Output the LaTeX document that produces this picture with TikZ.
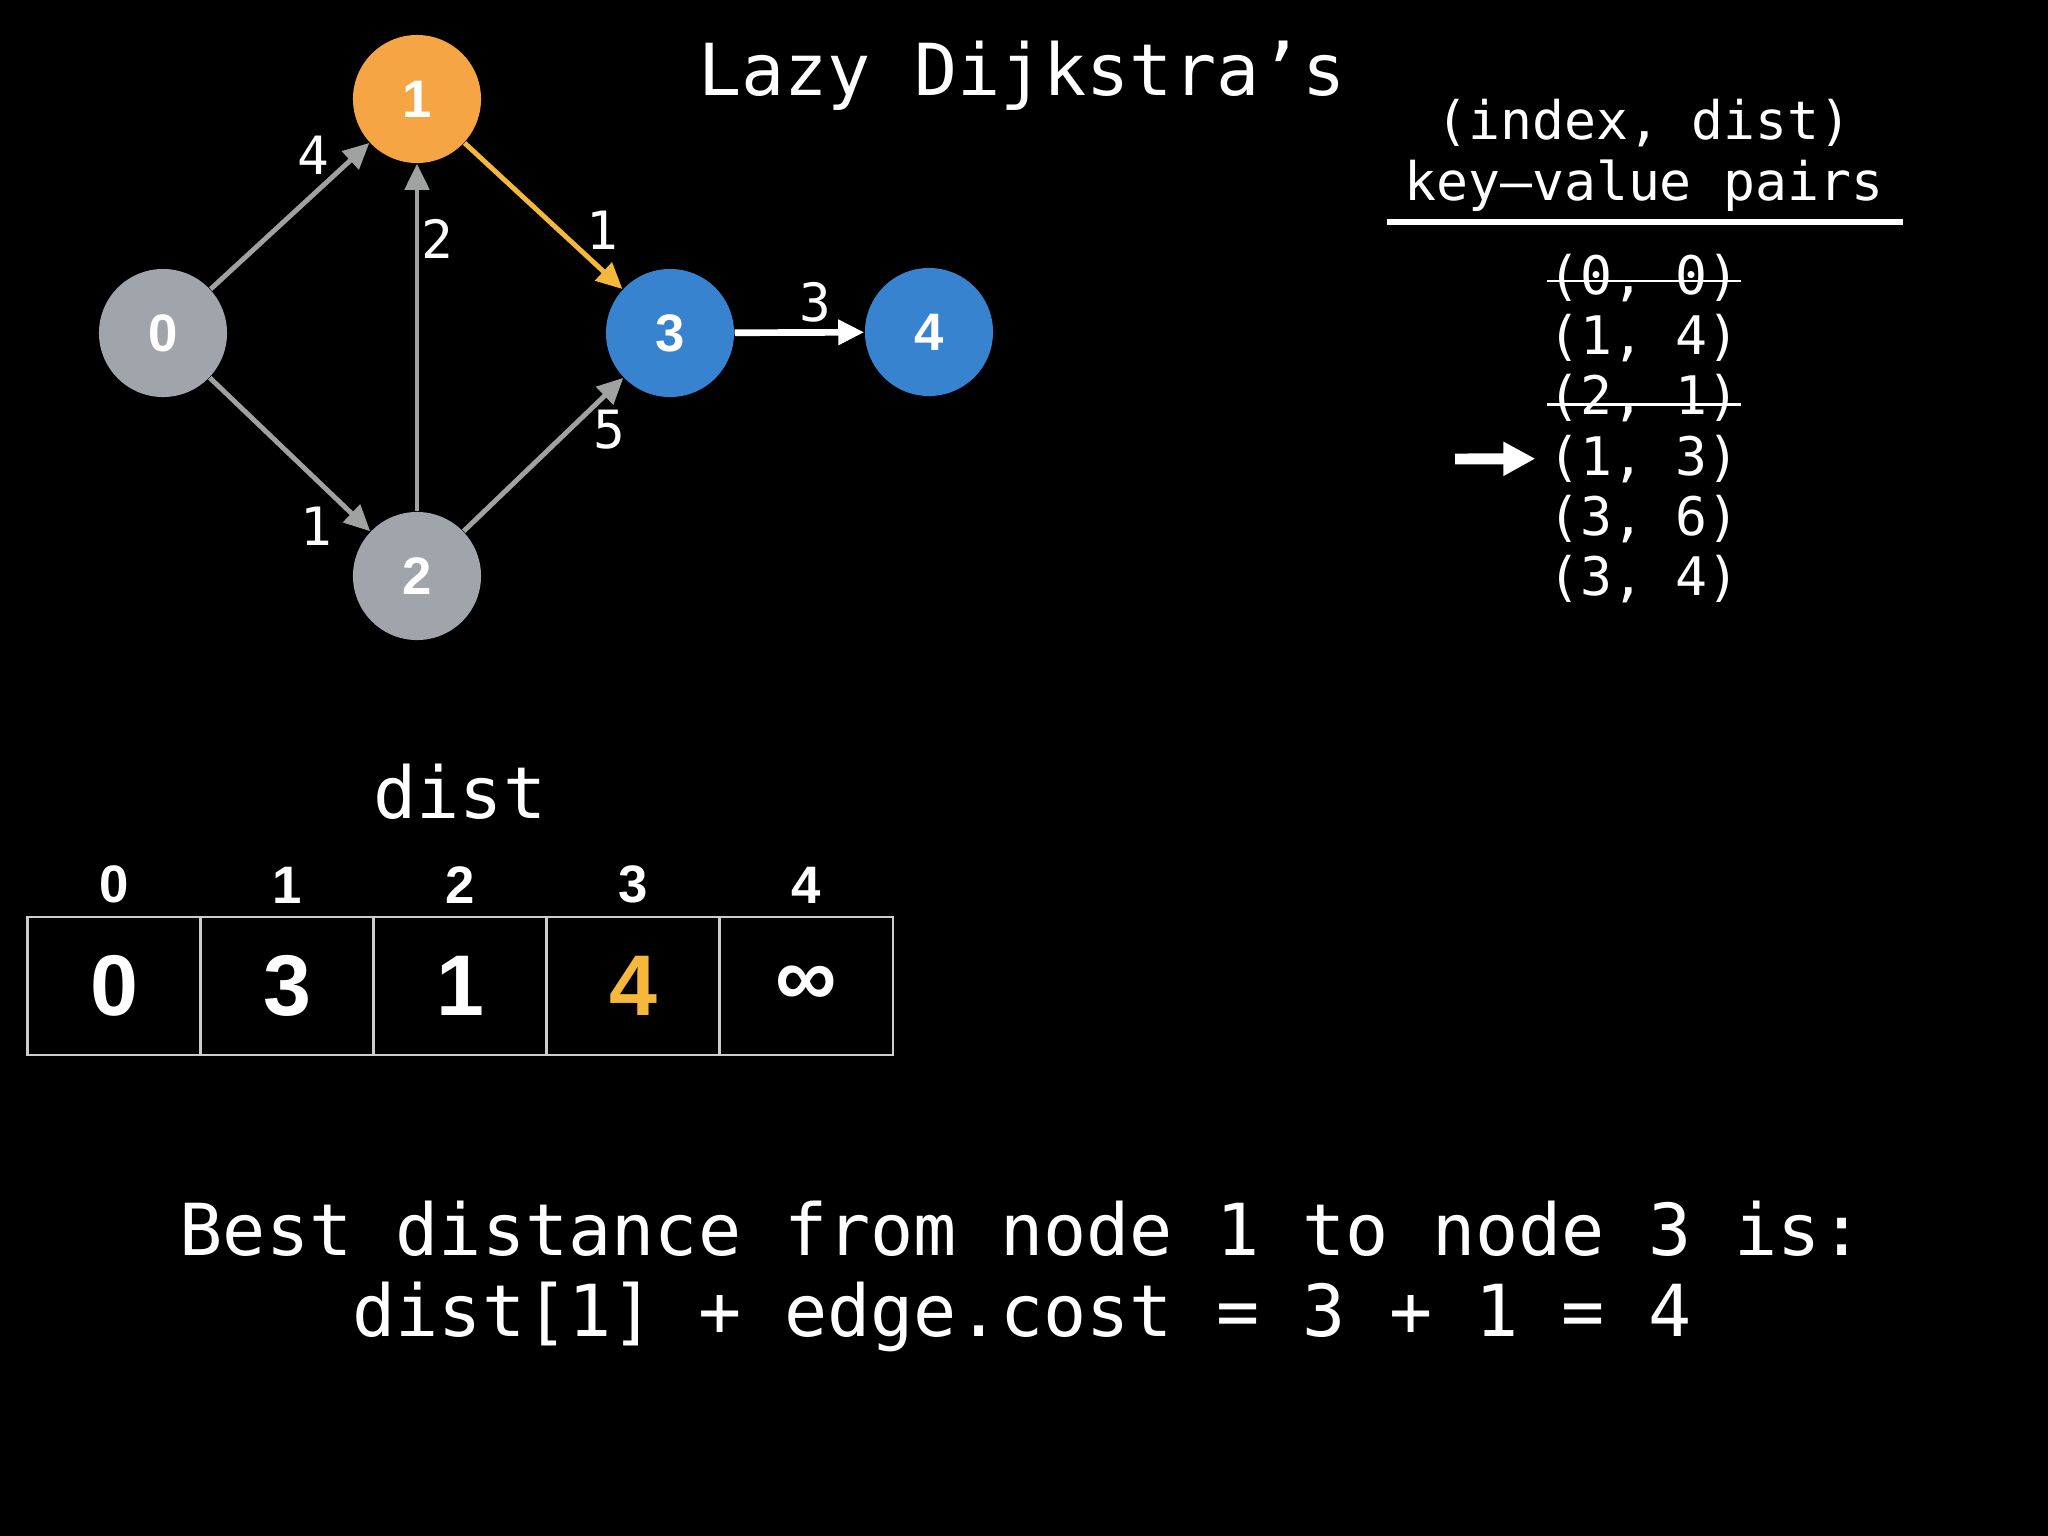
\documentclass[tikz,border=0pt]{standalone}
\usepackage{fontspec}
\setmainfont{DejaVu Sans Mono}
\newfontfamily\headfont{Liberation Sans}
\usepackage{tikz}
\usetikzlibrary{arrows.meta, positioning}
\definecolor{nodegray}{RGB}{160,165,172}
\definecolor{nodeorange}{RGB}{245,165,68}
\definecolor{nodeblue}{RGB}{56,131,207}
\definecolor{edgegray}{RGB}{160,162,162}
\definecolor{edgeorange}{RGB}{245,183,60}
\definecolor{gridgray}{RGB}{205,205,205}

\tikzset{
    vertex/.style={circle, minimum size=1.28cm, inner sep=0pt, text=white,
        font=\headfont\bfseries\fontsize{15}{17}\selectfont},
    wedge/.style={draw=edgegray, line width=1.4pt},
    wlabel/.style={text=white, inner sep=0pt, font=\fontsize{15}{17}\selectfont},
    bigtext/.style={text=white, inner sep=0pt, font=\fontsize{20.4}{23}\selectfont},
    pairtext/.style={text=white, inner sep=0pt, font=\fontsize{15.1}{17}\selectfont},
    strike/.style={white, line width=0.8pt},
    cell/.style={draw=gridgray, line width=0.6pt, minimum width=1.73cm, minimum height=1.38cm,
        inner sep=0pt, font=\headfont\bfseries\fontsize{24.5}{26}\selectfont},
    idx/.style={text=white, inner sep=0pt, font=\headfont\bfseries\fontsize{15}{17}\selectfont}
}

\begin{document}
\begin{tikzpicture}[x=0.01cm, y=-0.01cm, >={Triangle[length=0.26cm, width=0.24cm]}]
    \fill[black] (0,0) rectangle (2048,1536);
    \useasboundingbox (0,0) rectangle (2048,1536);

    % graph
    \node[vertex, fill=nodegray] (n0) at (163,333) {0};
    \node[vertex, fill=nodeorange] (n1) at (417,99) {1};
    \node[vertex, fill=nodegray] (n2) at (417,576) {2};
    \node[vertex, fill=nodeblue] (n3) at (670,333) {3};
    \node[vertex, fill=nodeblue] (n4) at (929,332) {4};

    \draw[wedge, ->] (n0) -- (n1);
    \draw[wedge, ->] (n0) -- (n2);
    \draw[wedge, ->] (n2) -- (n1);
    \draw[wedge, ->] (n2) -- (n3);
    \draw[wedge, ->, draw=edgeorange] (n1) -- (n3);
    \draw[wedge, ->, draw=white, line width=1.9pt] (n3) -- (n4);

    \node[wlabel] (w01) at (313,155) {4};
    \node[wlabel] (w21) at (437,239) {2};
    \node[wlabel] (w13) at (602,230) {1};
    \node[wlabel] (w34) at (815,302) {3};
    \node[wlabel] (w23) at (609,430) {5};
    \node[wlabel] (w02) at (316,526) {1};

    \node[bigtext] (title) at (1022,76) {Lazy Dijkstra’s};

    % priority queue
    \node[pairtext] (hd1) at (1644,123) {(index, dist)};
    \node[pairtext] (hd2) at (1644,186) {key–value pairs};
    \coordinate (ulL) at (1387,222);
    \coordinate (ulR) at (1903,222);
    \draw[white, line width=1.5pt] (ulL) -- (ulR);

    \foreach \txt [count=\i from 0] in {{(0, 0)},{(1, 4)},{(2, 1)},{(1, 3)},{(3, 6)},{(3, 4)}}
        \node[pairtext] (p\i) at (1644,{278+60.2*\i}) {\txt};
    \draw[strike] ([yshift=-0.03cm]p0.west) -- ([yshift=-0.03cm]p0.east);
    \draw[strike] ([yshift=-0.06cm]p2.west) -- ([yshift=-0.06cm]p2.east);
    \coordinate (ptr) at (1455,459);
    \draw[white, line width=3.1pt, -{Triangle[length=0.32cm, width=0.32cm]}, shorten >=0.12cm] (ptr) -- (p3.west);

    % dist array
    \foreach \v/\c [count=\i from 0] in {0/white,3/white,1/white,4/edgeorange,∞/white} {
        \node[cell, text=\c] (c\i) at ({114+173*\i},986) {\v};
        \node[idx, above=0.12cm of c\i] (i\i) {\i};
    }
    \node[bigtext, above=0.45cm of i2] (distlbl) {dist};

    % explanation
    \node[bigtext, align=center] (note) at (1022,1276)
        {Best distance from node 1 to node 3 is:\\dist[1] + edge.cost = 3 + 1 = 4};
\end{tikzpicture}
\end{document}
